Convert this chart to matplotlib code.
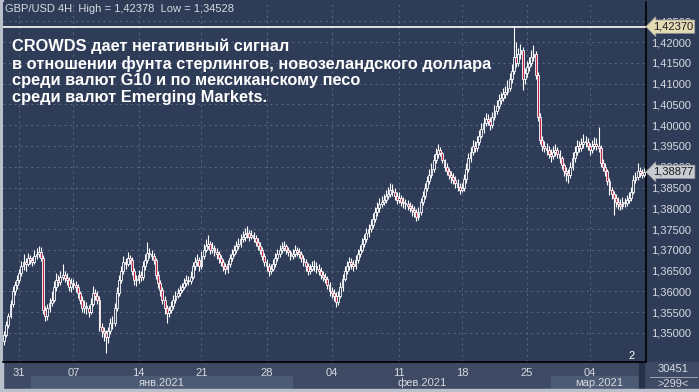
import matplotlib.pyplot as plt
from matplotlib.patches import Rectangle
import numpy as np

# GBP/USD 4H closes, highs, lows in pips (1/10000)
closes = [
    13495, 13520, 13540, 13570, 13600, 13615, 13628, 13645, 13660, 13670,
    13665, 13680, 13675, 13670, 13685, 13690, 13695, 13680, 13555, 13540,
    13560, 13572, 13580, 13610, 13628, 13622, 13635, 13640, 13632, 13628,
    13610, 13620, 13615, 13610, 13595, 13580, 13560, 13565, 13560, 13550,
    13570, 13596, 13590, 13580, 13514, 13505, 13500, 13490, 13505, 13524,
    13524, 13560, 13596, 13628, 13650, 13670, 13665, 13680, 13675, 13650,
    13628, 13628, 13640, 13635, 13660, 13675, 13692, 13690, 13685, 13675,
    13640, 13620, 13603, 13580, 13560, 13548, 13555, 13565, 13580, 13590,
    13596, 13603, 13610, 13620, 13628, 13625, 13635, 13660, 13670, 13675,
    13660, 13685, 13700, 13710, 13715, 13700, 13705, 13695, 13690, 13680,
    13670, 13660, 13655, 13665, 13680, 13690, 13700, 13710, 13715, 13725,
    13730, 13738, 13740, 13732, 13735, 13728, 13720, 13710, 13700, 13685,
    13670, 13660, 13650, 13655, 13665, 13680, 13690, 13700, 13705, 13710,
    13700, 13695, 13685, 13690, 13700, 13695, 13690, 13680, 13670, 13660,
    13650, 13655, 13660, 13662, 13655, 13650, 13640, 13635, 13630, 13615,
    13600, 13595, 13590, 13575, 13590, 13610, 13630, 13650, 13660, 13670,
    13665, 13660, 13675, 13690, 13700, 13715, 13725, 13740, 13750, 13760,
    13775, 13790, 13800, 13810, 13815, 13820, 13830, 13835, 13845, 13840,
    13830, 13820, 13825, 13815, 13812, 13810, 13805, 13800, 13795, 13790,
    13780, 13790, 13815, 13830, 13850, 13865, 13880, 13895, 13915, 13930,
    13940, 13932, 13915, 13900, 13890, 13880, 13875, 13868, 13860, 13852,
    13845, 13850, 13870, 13895, 13920, 13935, 13950, 13945, 13960, 13975,
    13990, 14005, 14015, 14010, 14000, 14020, 14035, 14045, 14060, 14065,
    14075, 14080, 14090, 14110, 14130, 14165, 14150, 14170, 14180, 14110,
    14125, 14140, 14150, 14165, 14170, 14120, 14020, 13965, 13950, 13945,
    13940, 13930, 13925, 13935, 13940, 13930, 13920, 13905, 13890, 13885,
    13880, 13900, 13920, 13935, 13950, 13945, 13955, 13960, 13960, 13950,
    13940, 13950, 13955, 13950, 13945, 13910, 13900, 13890, 13865, 13845,
    13835, 13825, 13815, 13810, 13805, 13815, 13812, 13820, 13825, 13840,
    13868, 13875, 13890, 13885, 13880, 13887.7,
]
highs = [
    13505, 13528, 13548, 13580, 13612, 13625, 13640, 13655, 13672, 13690,
    13680, 13692, 13688, 13684, 13700, 13705, 13710, 13708, 13688, 13565,
    13570, 13585, 13600, 13625, 13645, 13640, 13650, 13665, 13650, 13645,
    13635, 13632, 13630, 13625, 13618, 13602, 13588, 13580, 13575, 13568,
    13585, 13612, 13605, 13600, 13588, 13525, 13515, 13508, 13515, 13535,
    13540, 13572, 13610, 13640, 13662, 13685, 13680, 13695, 13688, 13682,
    13656, 13640, 13652, 13650, 13672, 13690, 13718, 13705, 13700, 13692,
    13680, 13648, 13628, 13610, 13588, 13568, 13565, 13578, 13592, 13600,
    13608, 13615, 13620, 13632, 13640, 13638, 13648, 13670, 13682, 13690,
    13682, 13698, 13715, 13725, 13735, 13722, 13718, 13712, 13705, 13698,
    13688, 13678, 13668, 13675, 13690, 13702, 13712, 13722, 13728, 13738,
    13745, 13752, 13758, 13748, 13748, 13742, 13735, 13728, 13718, 13706,
    13692, 13678, 13668, 13665, 13678, 13692, 13702, 13712, 13718, 13722,
    13715, 13708, 13700, 13702, 13712, 13708, 13705, 13698, 13688, 13678,
    13668, 13665, 13672, 13675, 13670, 13665, 13658, 13650, 13645, 13638,
    13622, 13610, 13605, 13598, 13600, 13622, 13642, 13662, 13672, 13682,
    13680, 13675, 13688, 13702, 13712, 13728, 13738, 13752, 13762, 13775,
    13788, 13802, 13815, 13825, 13830, 13835, 13845, 13852, 13862, 13858,
    13850, 13840, 13838, 13832, 13828, 13822, 13820, 13815, 13810, 13805,
    13798, 13802, 13825, 13842, 13862, 13878, 13895, 13910, 13930, 13945,
    13955, 13948, 13935, 13918, 13908, 13898, 13890, 13885, 13878, 13870,
    13862, 13862, 13882, 13908, 13932, 13948, 13965, 13962, 13975, 13988,
    14005, 14020, 14030, 14028, 14020, 14032, 14048, 14060, 14075, 14080,
    14090, 14095, 14108, 14125, 14148, 14237.8, 14200, 14185, 14195, 14188,
    14138, 14155, 14165, 14180, 14192, 14178, 14128, 14030, 13975, 13962,
    13958, 13950, 13942, 13950, 13955, 13948, 13940, 13925, 13910, 13900,
    13895, 13912, 13935, 13950, 13965, 13962, 13970, 13978, 13975, 13968,
    13958, 13965, 13972, 13970, 13995, 13952, 13918, 13908, 13895, 13872,
    13852, 13842, 13835, 13828, 13822, 13828, 13825, 13832, 13838, 13852,
    13880, 13888, 13910, 13900, 13895, 13898,
]
lows = [
    13470, 13490, 13512, 13535, 13562, 13592, 13605, 13620, 13638, 13652,
    13650, 13660, 13665, 13660, 13665, 13678, 13682, 13672, 13545, 13530,
    13532, 13550, 13565, 13575, 13600, 13612, 13615, 13628, 13622, 13615,
    13600, 13598, 13605, 13598, 13585, 13570, 13550, 13548, 13545, 13538,
    13545, 13565, 13580, 13570, 13505, 13490, 13480, 13452.8, 13475, 13498,
    13510, 13518, 13552, 13590, 13620, 13642, 13655, 13660, 13665, 13640,
    13615, 13612, 13620, 13625, 13628, 13652, 13668, 13680, 13675, 13665,
    13630, 13608, 13590, 13570, 13545, 13525, 13538, 13548, 13558, 13572,
    13585, 13590, 13598, 13605, 13612, 13615, 13618, 13630, 13652, 13662,
    13650, 13655, 13678, 13695, 13702, 13690, 13692, 13685, 13678, 13668,
    13660, 13648, 13642, 13645, 13658, 13672, 13685, 13692, 13702, 13708,
    13718, 13722, 13728, 13722, 13725, 13718, 13710, 13700, 13690, 13675,
    13660, 13648, 13638, 13642, 13648, 13658, 13672, 13682, 13692, 13698,
    13690, 13685, 13675, 13678, 13682, 13685, 13680, 13670, 13660, 13650,
    13640, 13642, 13648, 13650, 13645, 13640, 13630, 13625, 13620, 13605,
    13590, 13585, 13578, 13562, 13568, 13585, 13602, 13625, 13642, 13652,
    13655, 13650, 13655, 13668, 13682, 13695, 13708, 13718, 13732, 13742,
    13752, 13768, 13782, 13792, 13802, 13808, 13812, 13822, 13828, 13830,
    13820, 13810, 13812, 13805, 13800, 13798, 13795, 13790, 13782, 13778,
    13770, 13772, 13785, 13808, 13822, 13842, 13858, 13872, 13888, 13908,
    13922, 13925, 13908, 13890, 13880, 13870, 13862, 13858, 13850, 13842,
    13835, 13838, 13842, 13862, 13888, 13912, 13928, 13935, 13938, 13952,
    13968, 13982, 13998, 14000, 13988, 13992, 14012, 14028, 14038, 14050,
    14058, 14065, 14072, 14082, 14102, 14122, 14140, 14142, 14160, 14085,
    14100, 14115, 14130, 14142, 14155, 14110, 14010, 13955, 13938, 13935,
    13928, 13920, 13912, 13918, 13925, 13920, 13910, 13895, 13878, 13865,
    13860, 13872, 13892, 13912, 13928, 13935, 13938, 13945, 13948, 13940,
    13928, 13932, 13942, 13940, 13935, 13900, 13890, 13878, 13855, 13832,
    13822, 13785, 13802, 13798, 13795, 13798, 13802, 13805, 13812, 13818,
    13835, 13860, 13868, 13875, 13872, 13875,
]
first_open = 13480

y_ticks = [1.350, 1.355, 1.360, 1.365, 1.370, 1.375, 1.380, 1.385, 1.390,
           1.395, 1.400, 1.405, 1.410, 1.415, 1.420, 1.425]
x_tick_pos = [7, 32, 62, 91, 121, 151, 182, 211, 241, 270]
x_tick_labels = ['31', '07', '14', '21', '28', '04', '11', '18', '25', '04']
months = ['янв.2021', 'фев.2021', 'мар.2021']
line_level = 1.42370
last_price = 1.38877

headline = ("CROWDS дает негативный сигнал\n"
            "в отношении фунта стерлингов, новозеландского доллара\n"
            "среди валют G10 и по мексиканскому песо\n"
            "среди валют Emerging Markets.")

navy = '#2e3c58'
bottom_bg = '#3e4a63'
band_bg = '#4d5a74'
grid_c = '#55627e'
label_c = '#d6dae2'

c = np.array(closes) / 10000
h = np.array(highs) / 10000
l = np.array(lows) / 10000
o = np.concatenate([[first_open / 10000], c[:-1]])
idx = np.arange(len(c))

W, H = 699, 392
plt.rcParams['font.family'] = ['Liberation Sans', 'DejaVu Sans']
fig = plt.figure(figsize=(W / 100, H / 100), dpi=100, facecolor=navy)

def fx(px):
    return px / W

def fy(py):
    return 1 - py / H

# bottom date panel and bands
fig.patches.append(Rectangle((0, 0), 1, fy(362), transform=fig.transFigure,
                             color=bottom_bg, zorder=0))
fig.patches.append(Rectangle((fx(31), fy(390)), fx(292 - 31), fy(376) - fy(390),
                             transform=fig.transFigure, color=band_bg, zorder=0))
fig.patches.append(Rectangle((fx(551), fy(390)), fx(638 - 551), fy(376) - fy(390),
                             transform=fig.transFigure, color=band_bg, zorder=0))
# scrollbar-ish dark strip
fig.patches.append(Rectangle((fx(639), fy(390)), fx(5), fy(356) - fy(390),
                             transform=fig.transFigure, color='#26314a', zorder=0))
# light frame
fig.patches.append(Rectangle((0, 0), fx(3), 1, transform=fig.transFigure,
                             color='#b8c0cc', zorder=0))
fig.patches.append(Rectangle((0, 0), 1, fy(389), transform=fig.transFigure,
                             color='#b8c0cc', zorder=0))

ax = fig.add_axes([fx(3), fy(362), fx(643), fy(2) - fy(362)])
ax.set_zorder(1)
ax.set_facecolor(navy)

# candles
ax.vlines(idx, l, h, color='white', lw=0.8, zorder=3)
bear = c < o
body_lo = np.minimum(o, c)
body_h = np.maximum(np.abs(c - o), 0.00008)
ax.bar(idx, body_h, bottom=body_lo, width=0.85,
       color=np.where(bear, '#c0284a', navy), edgecolor='white',
       linewidth=0.6, zorder=4)

ax.axhline(line_level, color='white', lw=1.2, zorder=5)

ax.set_xlim(-0.46, 295.85)
ax.set_ylim(1.34302, 1.42963)

ax.set_yticks(y_ticks)
ax.set_yticklabels([f"{v:.5f}".replace('.', ',') for v in y_ticks])
ax.yaxis.tick_right()
ax.set_xticks(x_tick_pos)
ax.set_xticklabels(x_tick_labels)
ax.tick_params(axis='both', length=0, colors=label_c, labelsize=8)
ax.tick_params(axis='y', pad=4)
ax.tick_params(axis='x', pad=4)
ax.grid(True, color=grid_c, lw=0.8, linestyle=(0, (2, 3)))
ax.set_axisbelow(True)

for s in ['top', 'left']:
    ax.spines[s].set_visible(False)
for s in ['right', 'bottom']:
    ax.spines[s].set_color('black')
    ax.spines[s].set_linewidth(1.2)

# price labels on the right
ax.annotate(f"{line_level:.5f}".replace('.', ','), xy=(1.0, line_level),
            xycoords=('axes fraction', 'data'), xytext=(5, 0),
            textcoords='offset points', va='center', ha='left', fontsize=8,
            color='#1a1a1a', zorder=10, annotation_clip=False,
            bbox=dict(boxstyle='larrow,pad=0.15', fc='#e4dab4', ec='#9a9a9a', lw=0.5))
ax.annotate(f"{last_price:.5f}".replace('.', ','), xy=(1.0, last_price),
            xycoords=('axes fraction', 'data'), xytext=(5, 0),
            textcoords='offset points', va='center', ha='left', fontsize=8,
            color='#1a1a1a', zorder=10, annotation_clip=False,
            bbox=dict(boxstyle='larrow,pad=0.15', fc='#c9ccd2', ec='#9a9a9a', lw=0.5))

# title and headline
fig.text(fx(5), fy(9), "GBP/USD 4H  High = 1,42378  Low = 1,34528",
         color=label_c, fontsize=8, va='center', ha='left')
fig.text(fx(12), fy(39), headline, color='white', fontsize=11.8,
         fontweight='bold', va='top', ha='left', linespacing=1.12)
fig.text(fx(632), fy(356), "2", color='white', fontsize=8, va='center', ha='center')

# month labels
fig.text(fx(162), fy(383), months[0], color=label_c, fontsize=8, va='center', ha='center')
fig.text(fx(422), fy(383), months[1], color=label_c, fontsize=8, va='center', ha='center')
fig.text(fx(599), fy(383), months[2], color=label_c, fontsize=8, va='center', ha='center')

# right bottom counters
fig.text(fx(673), fy(369), "30451", color=label_c, fontsize=8, va='center', ha='center')
fig.lines.append(plt.Line2D([fx(650), fx(697)], [fy(377), fy(377)],
                            transform=fig.transFigure, color='#aab2c0', lw=0.6))
fig.text(fx(673), fy(384), ">299<", color=label_c, fontsize=8, va='center', ha='center')

fig.savefig('out.png', dpi=100, facecolor=navy)
